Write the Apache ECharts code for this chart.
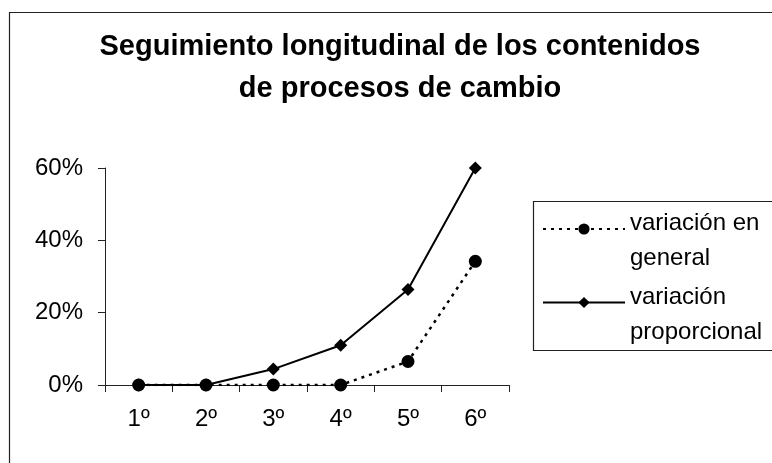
<!DOCTYPE html>
<html>
<head>
<meta charset="utf-8">
<script src="https://cdn.jsdelivr.net/npm/echarts@6/dist/echarts.min.js"></script>
<style>html,body{margin:0;padding:0;background:#fff;}#c{width:772px;height:463px;}</style>
</head>
<body>
<div id="c"></div>
<script>
const categories = ['1º', '2º', '3º', '4º', '5º', '6º'];
const general = [0, 0, 0, 0, 6.5, 34.2];
const proporcional = [0, 0, 4.4, 11.0, 26.4, 60];
const yTicks = [0, 20, 40, 60];
const seriesNames = ['variación en\ngeneral', 'variación\nproporcional'];
const titleText = 'Seguimiento longitudinal de los contenidos\nde procesos de cambio';

const chart = echarts.init(document.getElementById('c'), null, {renderer: 'canvas'});
const font = 'Arial, "Liberation Sans", sans-serif';
chart.setOption({
  animation: false,
  backgroundColor: '#fff',
  title: {
    text: titleText,
    left: 395, top: 21, textAlign: 'center',
    textStyle: {fontFamily: font, fontSize: 29, fontWeight: 'bold', color: '#000', lineHeight: 42}
  },
  graphic: [
    {type: 'rect', shape: {x: 9.5, y: 12.5, width: 900, height: 600}, style: {fill: null, stroke: '#222', lineWidth: 1.2}, silent: true, z: 0},
    {type: 'rect', shape: {x: 533.5, y: 201.5, width: 400, height: 149}, style: {fill: '#fff', stroke: '#222', lineWidth: 1.2}, silent: true, z: 1}
  ],
  legend: {
    orient: 'vertical',
    left: 542, top: 189,
    itemWidth: 82, itemHeight: 14, itemGap: -8, padding: 0,
    formatter: name => '{s| }\n' + name.split('\n').map(l => '{t|' + l + '}').join('\n'),
    textStyle: {
      fontFamily: font, fontSize: 24, color: '#000',
      rich: {
        s: {fontSize: 10, lineHeight: 24},
        t: {fontFamily: font, fontSize: 24, color: '#000', lineHeight: 35}
      }
    },
    data: seriesNames,
    z: 5
  },
  grid: {left: 105, right: 263, top: 168, bottom: 78},
  xAxis: {
    type: 'category', data: categories, boundaryGap: true,
    axisLine: {lineStyle: {color: '#222', width: 1}},
    axisTick: {show: true, length: 7, lineStyle: {color: '#222'}},
    axisLabel: {fontFamily: font, fontSize: 24, color: '#000', margin: 22}
  },
  yAxis: {
    type: 'value', min: 0, max: 60, interval: 20,
    axisLine: {show: true, lineStyle: {color: '#222', width: 1}},
    axisTick: {show: true, length: 7, lineStyle: {color: '#222'}},
    splitLine: {show: false},
    axisLabel: {fontFamily: font, fontSize: 24, color: '#000', margin: 22, formatter: v => yTicks.includes(v) ? v + '%' : ''}
  },
  series: [
    {
      name: seriesNames[1], type: 'line', data: proporcional,
      symbol: 'diamond', symbolSize: 13,
      lineStyle: {color: '#000', width: 2},
      itemStyle: {color: '#000'}, z: 3
    },
    {
      name: seriesNames[0], type: 'line', data: general,
      symbol: 'circle', symbolSize: 13,
      lineStyle: {color: '#000', width: 2.5, type: [3, 5]},
      itemStyle: {color: '#000'}, z: 4
    }
  ]
});
</script>
</body>
</html>
